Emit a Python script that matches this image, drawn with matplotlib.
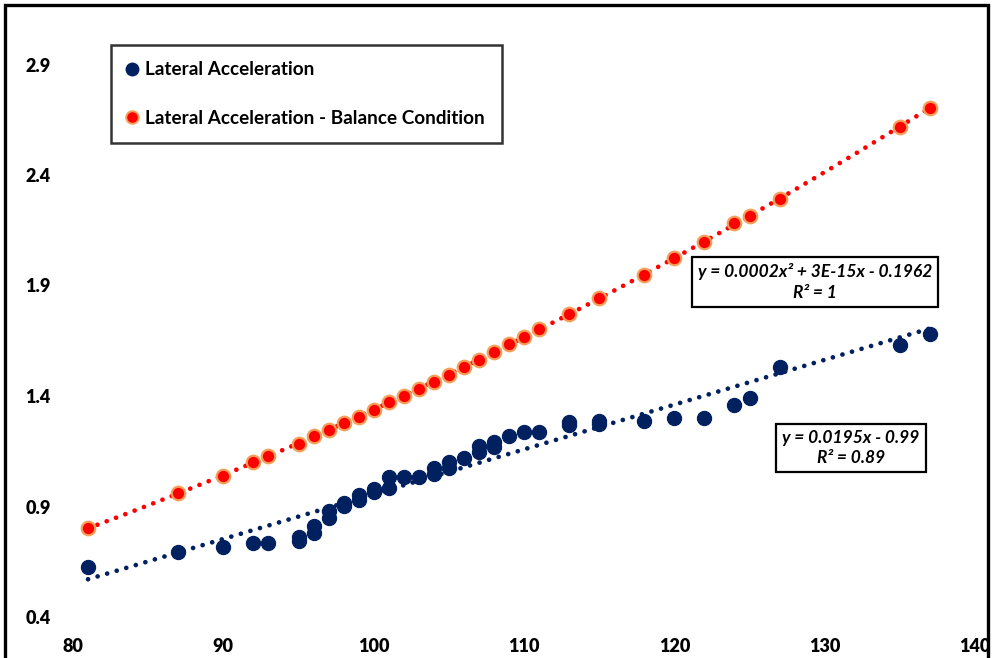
import numpy as np
import matplotlib
matplotlib.use("Agg")
import matplotlib.pyplot as plt
from matplotlib.patches import Rectangle
from matplotlib.lines import Line2D

plt.rcParams['font.family'] = ['Lato', 'DejaVu Sans']

speed = [81, 87, 90, 92, 93, 95, 95, 96, 96, 97, 97, 98, 98, 99, 99, 100, 100,
         101, 101, 102, 103, 104, 104, 105, 105, 106, 107, 107, 108, 108, 109,
         110, 111, 113, 113, 115, 115, 118, 120, 122, 124, 125, 127, 135, 137]
lat_acc = [0.626, 0.694, 0.717, 0.735, 0.735, 0.744, 0.762, 0.780, 0.812, 0.848,
           0.880, 0.902, 0.916, 0.929, 0.952, 0.966, 0.979, 0.984, 1.033, 1.033,
           1.033, 1.047, 1.074, 1.074, 1.101, 1.119, 1.147, 1.174, 1.169, 1.192,
           1.219, 1.237, 1.237, 1.269, 1.282, 1.273, 1.287, 1.287, 1.300, 1.300,
           1.359, 1.391, 1.531, 1.631, 1.681]

speed_bal = [81, 87, 90, 92, 93, 95, 96, 97, 98, 99, 100, 101, 102, 103, 104,
             105, 106, 107, 108, 109, 110, 111, 113, 115, 118, 120, 122, 124,
             125, 127, 135, 137]
lat_acc_bal = [0.801, 0.962, 1.039, 1.100, 1.129, 1.184, 1.218, 1.246, 1.279,
               1.306, 1.337, 1.371, 1.400, 1.430, 1.465, 1.495, 1.530, 1.563,
               1.600, 1.634, 1.666, 1.703, 1.771, 1.842, 1.948, 2.023, 2.098,
               2.181, 2.216, 2.291, 2.619, 2.703]

labels = ['Lateral Acceleration', 'Lateral Acceleration - Balance Condition']
eq_lin = 'y = 0.0195x - 0.99\nR² = 0.89'
eq_quad = 'y = 0.0002x² + 3E-15x - 0.1962\nR² = 1'

navy = '#002060'
red = '#FF0000'

W, H = 992, 658
fig = plt.figure(figsize=(W / 100, H / 100), dpi=100)
ax = fig.add_axes([73 / W, (H - 617) / H, 902 / W, 617 / H])

# trendlines
xs = np.array(speed, dtype=float)
xb = np.array(speed_bal, dtype=float)
p1 = np.polyfit(xs, lat_acc, 1)
p2 = np.polyfit(xb, lat_acc_bal, 2)
xl = np.linspace(min(speed), max(speed), 200)
dot = (0, (0.01, 2.1))
ax.plot(xl, np.polyval(p1, xl), color=navy, lw=3.4, ls=dot,
        dash_capstyle='round', zorder=2)
ax.plot(xl, np.polyval(p2, xl), color=red, lw=3.4, ls=dot,
        dash_capstyle='round', zorder=2)

ax.scatter(speed, lat_acc, s=105, color=navy, edgecolors=navy, lw=0.8, zorder=3)
ax.scatter(speed_bal, lat_acc_bal, s=95, color=red, edgecolors='#F4A05A',
           lw=1.6, zorder=3)

ax.set_xlim(80, 140)
ax.set_ylim(0.4, 0.4 + 617 / 221)
ax.set_xticks(np.arange(80, 141, 10))
ax.set_yticks([0.4, 0.9, 1.4, 1.9, 2.4, 2.9])
ax.set_yticklabels(['0.4', '0.9', '1.4', '1.9', '2.4', '2.9'])
ax.tick_params(length=0, labelsize=13, colors='black')
ax.tick_params(axis='x', pad=15)
ax.tick_params(axis='y', pad=16)
for t in ax.get_xticklabels() + ax.get_yticklabels():
    t.set_fontweight('heavy')
for s in ax.spines.values():
    s.set_visible(False)

# legend
handles = [Line2D([], [], ls='none', marker='o', ms=9, color=navy),
           Line2D([], [], ls='none', marker='o', ms=9, mfc=red, mec='#F4A05A', mew=1.4)]
leg = ax.legend(handles, labels, loc='upper left',
                bbox_to_anchor=(111 / W, 1 - 45 / H), bbox_transform=fig.transFigure,
                prop={'weight': 'bold', 'size': 13.6}, frameon=True, fancybox=False,
                edgecolor='black', labelspacing=1.65, handletextpad=0.45,
                handlelength=0.5, borderpad=0.87, borderaxespad=0)
leg.get_frame().set_linewidth(1.8)

# equation boxes
box = dict(boxstyle='square,pad=0.35', fc='white', ec='black', lw=1.6)
fig.text(815 / W, 1 - 282 / H, eq_quad, ha='center', va='center', fontsize=12.5,
         fontweight='bold', style='italic', linespacing=1.35, bbox=box)
fig.text(851 / W, 1 - 448 / H, eq_lin, ha='center', va='center', fontsize=12.5,
         fontweight='bold', style='italic', linespacing=1.35, bbox=box)

# chart frame (bottom edge cropped off)
fig.patches.append(Rectangle((5 / W, -0.05), 983 / W, 1.05 - 5 / H,
                             transform=fig.transFigure, fill=False,
                             ec='black', lw=2.4))

fig.savefig('out.png', dpi=100)
